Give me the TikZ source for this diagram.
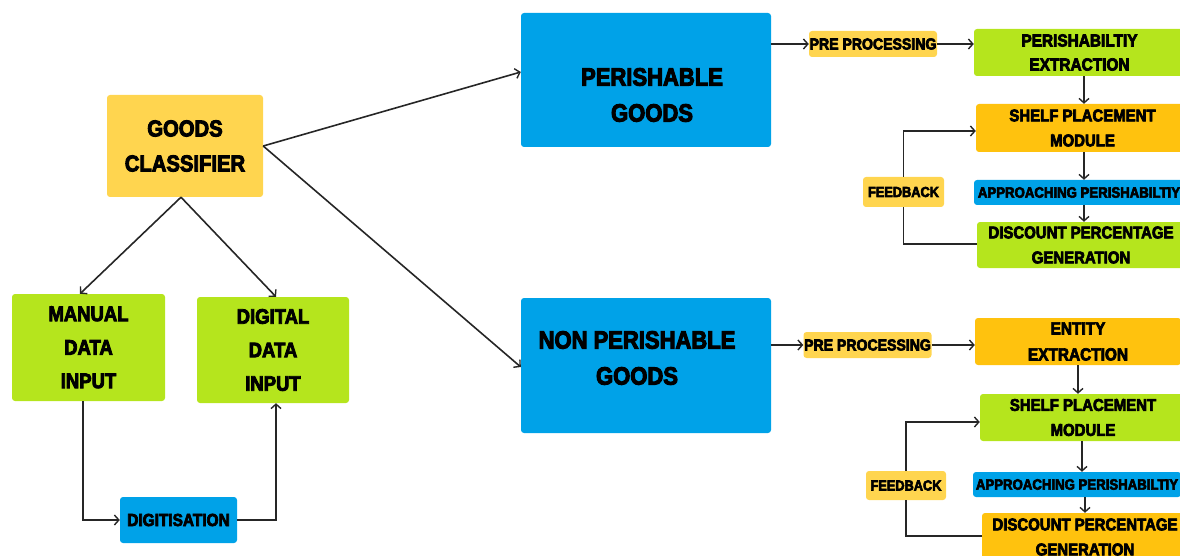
\documentclass[tikz,border=0pt]{standalone}
\usepackage{fontspec}
\setmainfont{Liberation Sans}
\newfontfamily\hvb{Liberation Sans Bold}[FakeStretch=0.88, FakeBold=4]
\usetikzlibrary{arrows.meta,calc}
\definecolor{cyel}{HTML}{FFD54F}
\definecolor{cgrn}{HTML}{B5E51D}
\definecolor{cblu}{HTML}{00A2E8}
\definecolor{corg}{HTML}{FFC20E}
\newcommand{\fz}[2]{\hvb\fontsize{#1}{#2}\selectfont}
\tikzset{
  box/.style={rectangle, rounded corners=3pt, draw=none, inner sep=0pt, align=center, text=black},
  txt/.style={inner sep=0pt, align=center, text=black},
  ln/.style={line width=1.6pt, draw=black!85},
  arr/.style={ln, -{Straight Barb[length=4.5pt,width=10pt,line width=1.4pt]}},
}
\begin{document}
\begin{tikzpicture}[x=1pt,y=-1pt]
\useasboundingbox (0,0) rectangle (1180,556);
\clip (0,0) rectangle (1180,556);
% left part
\node[box, fill=cyel, minimum width=156, minimum height=102, font=\fz{23}{35}] (cls) at (185,146) {GOODS\\CLASSIFIER};
\node[box, fill=cgrn, minimum width=153, minimum height=107, font=\fz{21}{33.5}] (man) at (88.5,347.5) {MANUAL\\DATA\\INPUT};
\node[box, fill=cgrn, minimum width=152, minimum height=106, font=\fz{21}{33.5}] (dig) at (273,350) {DIGITAL\\DATA\\INPUT};
\node[box, fill=cblu, minimum width=117, minimum height=46, font=\fz{17.5}{20}] (digi) at (178.5,520) {DIGITISATION};
% middle
\node[box, fill=cblu, minimum width=250, minimum height=134] (per) at (646,80) {};
\node[txt, font=\fz{25}{36}] (perT) at (652,95) {PERISHABLE\\GOODS};
\node[box, fill=cblu, minimum width=250, minimum height=135] (non) at (646,365.5) {};
\node[txt, font=\fz{25}{36}] (nonT) at (637,358) {NON PERISHABLE\\GOODS};
% top right cluster
\node[box, fill=cyel, minimum width=128, minimum height=26, font=\fz{16}{20}] (pp1) at (873,44) {PRE PROCESSING};
\node[box, fill=cgrn, minimum width=211, minimum height=47, font=\fz{17.5}{24}] (pex) at (1079.5,52.5) {PERISHABILTIY\\EXTRACTION};
\node[box, fill=corg, minimum width=213, minimum height=48, font=\fz{17}{25}] (sp1) at (1082.5,128) {SHELF PLACEMENT\\MODULE};
\node[box, fill=cblu, minimum width=210, minimum height=25, font=\fz{15}{18}] (ap1) at (1079,192.5) {APPROACHING PERISHABILTIY};
\node[box, fill=cgrn, minimum width=208, minimum height=46, font=\fz{17}{25}] (dg1) at (1081,245) {DISCOUNT PERCENTAGE\\GENERATION};
\node[box, fill=cyel, minimum width=81, minimum height=30, font=\fz{14.5}{18}] (fb1) at (903.5,192) {FEEDBACK};
% bottom right cluster
\node[box, fill=cyel, minimum width=128, minimum height=26, font=\fz{16}{20}] (pp2) at (867.5,345) {PRE PROCESSING};
\node[box, fill=corg, minimum width=206, minimum height=47, font=\fz{17.5}{26}] (ex2) at (1078,341.5) {ENTITY\\EXTRACTION};
\node[box, fill=cgrn, minimum width=206, minimum height=47, font=\fz{17}{25}] (sp2) at (1083,417.5) {SHELF PLACEMENT\\MODULE};
\node[box, fill=cblu, minimum width=208, minimum height=25, font=\fz{15}{18}] (ap2) at (1077,484.5) {APPROACHING PERISHABILTIY};
\node[box, fill=corg, minimum width=206, minimum height=48, font=\fz{17}{25}] (dg2) at (1085,537) {DISCOUNT PERCENTAGE\\GENERATION};
\node[box, fill=cyel, minimum width=80, minimum height=29, font=\fz{14.5}{18}] (fb2) at (906,485.5) {FEEDBACK};
% connectors left
\draw[arr] ([xshift=-4pt]cls.south) -- ([xshift=-8.5pt]man.north);
\draw[arr] ([xshift=-4pt]cls.south) -- ([xshift=3pt]dig.north);
\draw[arr] ([xshift=-5.5pt]man.south) |- (digi.west);
\draw[arr] (digi.east) -| ([xshift=3pt]dig.south);
\draw[arr] (cls.east) -- ([yshift=8pt]per.west);
\draw[arr] (cls.east) -- ([yshift=-1.5pt]non.west);
% connectors top right
\draw[arr] (pp1.west -| per.east) -- (pp1.west);
\draw[arr] (pp1.east) -- (pp1.east -| pex.west);
\draw[arr] ([xshift=4.5pt]pex.south) -- ([xshift=4.5pt]pex.south |- sp1.north);
\draw[arr] ([xshift=1.5pt]sp1.south) -- ([xshift=1.5pt]sp1.south |- ap1.north);
\draw[arr] ([xshift=5pt]ap1.south) -- ([xshift=5pt]ap1.south |- dg1.north);
\draw[ln] ([yshift=1pt]dg1.west) -| (fb1.south);
\draw[arr] (fb1.north) |- ([yshift=-3pt]sp1.west);
% connectors bottom right
\draw[arr] (pp2.west -| non.east) -- (pp2.west);
\draw[arr] (pp2.east) -- (pp2.east -| ex2.west);
\draw[arr] (ex2.south) -- (ex2.south |- sp2.north);
\draw[arr] ([xshift=-1pt]sp2.south) -- ([xshift=-1pt]sp2.south |- ap2.north);
\draw[arr] ([xshift=8pt]ap2.south) -- ([xshift=8pt]ap2.south |- dg2.north);
\draw[ln] ([yshift=1pt]dg2.west) -| (fb2.south);
\draw[arr] (fb2.north) |- ([yshift=-4.5pt]sp2.west);
\end{tikzpicture}
\end{document}
